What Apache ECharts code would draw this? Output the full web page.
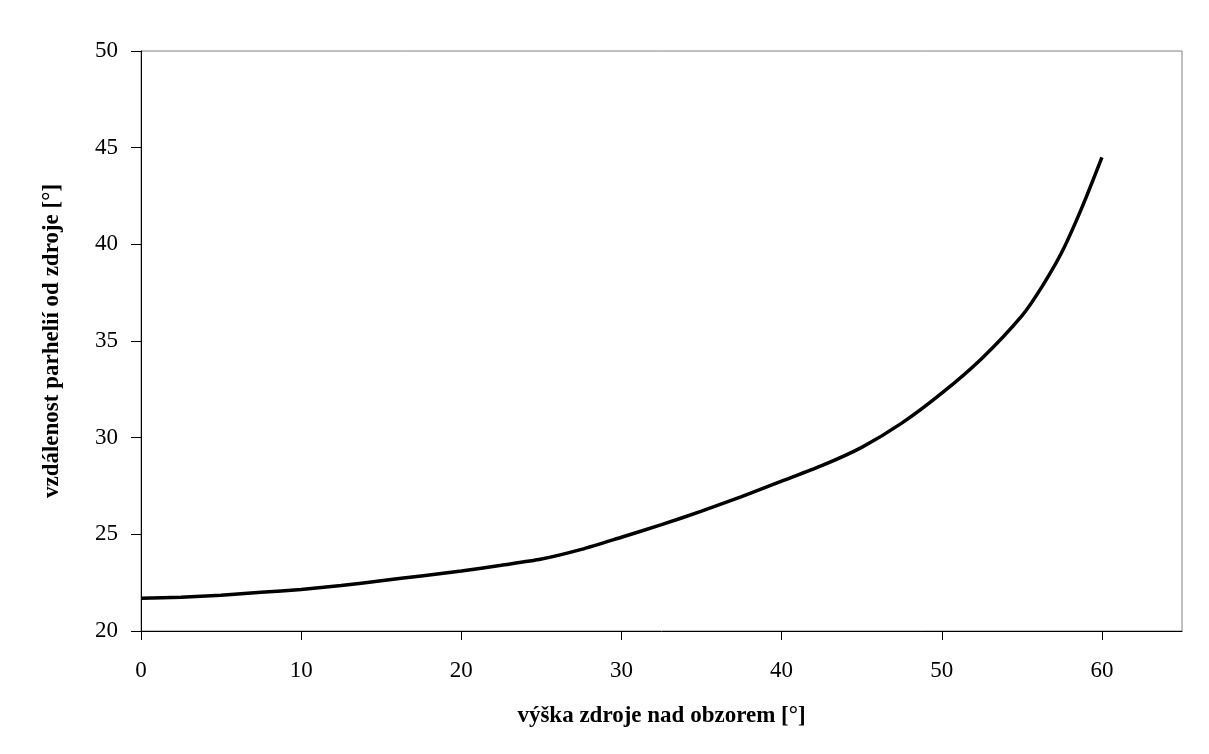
<!DOCTYPE html>
<html>
<head>
<meta charset="utf-8">
<script src="https://cdn.jsdelivr.net/npm/echarts@6/dist/echarts.min.js"></script>
<style>
  html, body { margin: 0; padding: 0; background: #ffffff; }
  #chart { width: 1209px; height: 754px; }
</style>
</head>
<body>
<div id="chart"></div>
<script>
// výška zdroje nad obzorem [°]
const heights = [0, 2.5, 5, 7.5, 10, 12.5, 15, 17.5, 20, 22.5, 25, 27.5, 30, 32.5, 35, 37.5, 40, 42.5, 45, 47.5, 50, 52.5, 55, 56.25, 57.5, 58.75, 60];
// vzdálenost parhelií od zdroje [°]
const distances = [21.7, 21.75, 21.85, 22.0, 22.15, 22.35, 22.6, 22.85, 23.1, 23.4, 23.72, 24.22, 24.85, 25.5, 26.2, 26.95, 27.75, 28.55, 29.5, 30.75, 32.3, 34.1, 36.3, 37.8, 39.6, 41.9, 44.5];

const xName = 'výška zdroje nad obzorem [°]';
const yName = 'vzdálenost parhelií od zdroje [°]';

const font = '"Liberation Serif", "Times New Roman", serif';

const chart = echarts.init(document.getElementById('chart'), null, { renderer: 'canvas' });

const option = {
    backgroundColor: '#ffffff',
    animation: false,
    grid: {
        left: 141,
        right: 27,
        top: 51,
        bottom: 123,
        show: true,
        borderColor: '#808080',
        borderWidth: 1,
        backgroundColor: 'transparent'
    },
    xAxis: {
        type: 'value',
        min: 0,
        max: 65,
        interval: 10,
        name: xName,
        nameLocation: 'middle',
        nameGap: 74,
        nameTextStyle: { fontFamily: font, fontSize: 23, fontWeight: 'bold', color: '#000' },
        axisLine: { show: true, lineStyle: { color: '#000', width: 1 } },
        axisTick: { show: true, length: 9, inside: false, lineStyle: { color: '#000' } },
        axisLabel: { fontFamily: font, fontSize: 23, color: '#000', margin: 28, showMaxLabel: false },
        splitLine: { show: false }
    },
    yAxis: {
        type: 'value',
        min: 20,
        max: 50,
        interval: 5,
        name: yName,
        nameLocation: 'middle',
        nameGap: 77,
        nameTextStyle: { fontFamily: font, fontSize: 23, fontWeight: 'bold', color: '#000' },
        axisLine: { show: true, lineStyle: { color: '#000', width: 1 } },
        axisTick: { show: true, length: 10, inside: false, lineStyle: { color: '#000' } },
        axisLabel: { fontFamily: font, fontSize: 23, color: '#000', margin: 23 },
        splitLine: { show: false }
    },
    series: [{
        type: 'line',
        data: heights.map((h, i) => [h, distances[i]]),
        smooth: 0.25,
        symbol: 'none',
        lineStyle: { color: '#000', width: 3.5 }
    }]
};

chart.setOption(option);
</script>
</body>
</html>
